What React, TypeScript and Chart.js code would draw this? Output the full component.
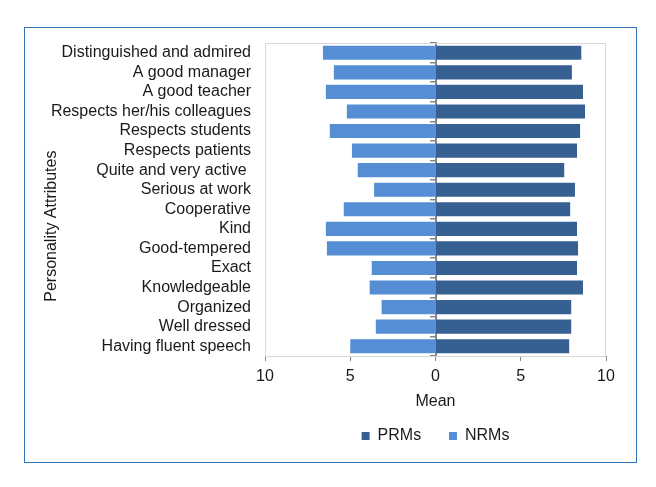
import React, { useEffect, useRef } from "react";
import { Chart, registerables, ChartConfiguration, Plugin } from "chart.js";

Chart.register(...registerables);

const attributes = [
  "Distinguished and admired",
  "A good manager",
  "A good teacher",
  "Respects her/his colleagues",
  "Respects students",
  "Respects patients",
  "Quite and very active ",
  "Serious at work",
  "Cooperative",
  "Kind",
  "Good-tempered",
  "Exact",
  "Knowledgeable",
  "Organized",
  "Well dressed",
  "Having fluent speech",
];

// mean scores, PRMs to the right
const prmMeans = [8.55, 8.0, 8.65, 8.77, 8.48, 8.3, 7.55, 8.18, 7.9, 8.3, 8.36, 8.3, 8.65, 7.96, 7.96, 7.84];
// NRMs drawn to the left (negative)
const nrmMeans = [-6.6, -5.96, -6.43, -5.2, -6.2, -4.9, -4.56, -3.6, -5.38, -6.43, -6.37, -3.74, -3.86, -3.16, -3.5, -5.0];

const xTicks = [-10, -5, 0, 5, 10];

const frame: Plugin = {
  id: "frame",
  beforeDatasetsDraw(chart) {
    const { ctx, chartArea } = chart;
    ctx.save();
    ctx.strokeStyle = "#d9d9d9";
    ctx.lineWidth = 1;
    ctx.strokeRect(chartArea.left + 0.5, chartArea.top + 0.5, chartArea.width - 1, chartArea.height);
    ctx.restore();
  },
};

const App: React.FC = () => {
  const chartRef = useRef<HTMLCanvasElement>(null);
  const chartInstance = useRef<Chart | null>(null);

  useEffect(() => {
    if (!chartRef.current) return;
    if (chartInstance.current) chartInstance.current.destroy();
    const ctx = chartRef.current.getContext("2d");
    if (!ctx) return;

    Chart.defaults.font.family = "'Liberation Sans', Arial, sans-serif";
    Chart.defaults.font.size = 16;
    Chart.defaults.color = "#1a1a1a";

    const config: ChartConfiguration = {
      type: "bar",
      data: {
        labels: attributes,
        datasets: [
          { label: "PRMs", data: prmMeans, backgroundColor: "#376092" },
          { label: "NRMs", data: nrmMeans, backgroundColor: "#558ed5" },
        ],
      },
      options: {
        indexAxis: "y",
        animation: false,
        responsive: true,
        maintainAspectRatio: false,
        layout: { padding: { top: 15, right: 30, left: 17, bottom: 8 } },
        datasets: { bar: { barPercentage: 0.72, categoryPercentage: 1 } },
        scales: {
          x: {
            stacked: true,
            min: -10,
            max: 10,
            afterBuildTicks: (scale) => {
              scale.ticks = xTicks.map((v) => ({ value: v }));
            },
            afterFit: (scale) => {
              scale.height = 62;
            },
            ticks: {
              callback: (v) => String(Math.abs(Number(v))),
              padding: 6,
              color: "#1a1a1a",
            },
            grid: { drawOnChartArea: false, drawTicks: true, tickLength: 5, color: "#868686" },
            border: { color: "#868686", width: 1 },
            title: { display: true, text: "Mean", padding: { top: 0, bottom: 7 }, color: "#1a1a1a" },
          },
          y: {
            stacked: true,
            afterFit: (scale) => {
              scale.width = 223;
              scale.paddingTop = 0;
              scale.paddingBottom = 0;
            },
            ticks: { padding: 6, color: "#1a1a1a", autoSkip: false },
            grid: { display: false },
            border: { display: false },
            title: {
              display: true,
              // trailing spaces push the rotated title down, as in the source
              text: "Personality Attributes            ",
              padding: { top: 0, bottom: 0 },
              color: "#1a1a1a",
            },
          },
          y2: {
            type: "category",
            position: { x: 0 },
            offset: true,
            z: 1,
            ticks: { display: false },
            grid: { offset: true, drawOnChartArea: false, drawTicks: true, tickLength: 5, color: "#868686", lineWidth: 1.5 },
            border: { color: "#868686", width: 2 },
          },
        },
        plugins: {
          legend: {
            position: "bottom",
            fullSize: false,
            labels: {
              boxWidth: 8,
              boxHeight: 8,
              padding: 10,
              color: "#1a1a1a",
              generateLabels: (chart) => {
                const items = Chart.defaults.plugins.legend.labels.generateLabels(chart);
                // widen the first entry so the two entries sit apart as in the source
                return items.map((it, i) => (i === 0 ? { ...it, text: it.text + "    " } : it));
              },
            },
          },
          tooltip: { enabled: false },
        },
      },
      plugins: [frame],
    };

    chartInstance.current = new Chart(ctx, config);
    return () => {
      if (chartInstance.current) chartInstance.current.destroy();
    };
  }, []);

  return (
    <div
      style={{
        marginLeft: 16,
        marginTop: 19,
        width: 611,
        height: 434,
        border: "1px solid #2e75b6",
        position: "relative",
      }}
    >
      <canvas ref={chartRef} />
    </div>
  );
};

export default App;
